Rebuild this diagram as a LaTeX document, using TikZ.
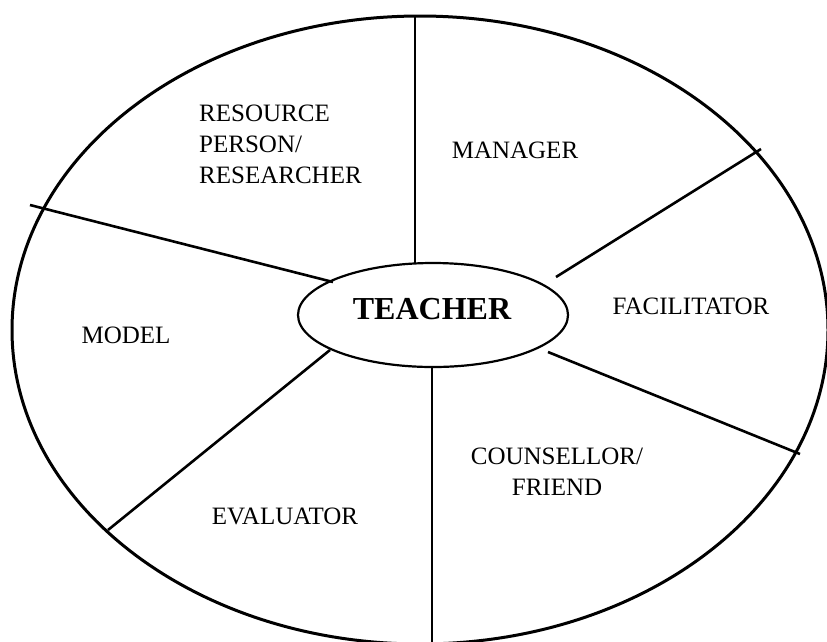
\documentclass[tikz,border=0pt]{standalone}
\usepackage{fontspec}
\setmainfont{Liberation Serif}
\usetikzlibrary{shapes.geometric, positioning}

\begin{document}
\begin{tikzpicture}[x=1pt, y=-1pt,
    role/.style={font=\fontsize{25}{31}\selectfont, inner sep=0pt},
    spoke/.style={line width=2.6pt}]

\useasboundingbox (0,0) rectangle (827,641);

% Outer ring
\draw[line width=3pt] (420,330) ellipse [x radius=408pt, y radius=314pt];

% Centre ellipse with the teacher
\node[draw, ellipse, line width=2.2pt, minimum width=270pt, minimum height=104pt, inner sep=0pt] (teacher) at (433,315) {};
\node[font=\fontsize{32}{38}\selectfont\bfseries, inner sep=0pt] (teachertext) at (432,309) {TEACHER};

% End points of the dividing lines
\coordinate (topout) at (415,15);
\coordinate (topin) at (415,263);
\coordinate (ulout) at (30,205);
\coordinate (ulin) at (333,282);
\coordinate (urout) at (761,149);
\coordinate (urin) at (556,277);
\coordinate (lrout) at (800,454);
\coordinate (lrin) at (548,352);
\coordinate (botout) at (432,648);
\coordinate (botin) at (432,367);
\coordinate (llout) at (108,530);
\coordinate (llin) at (330,350);

% Dividing lines
\foreach \a/\b in {topout/topin, ulout/ulin, urout/urin, lrout/lrin, botout/botin, llout/llin}
{
    \draw[spoke] (\a) -- (\b);
}

% Labels for the roles
\node[role, align=left, anchor=north west] (resource) at (199,105) {RESOURCE\\PERSON/\\RESEARCHER};
\node[role] (manager) at (515,150) {MANAGER};
\node[role] (facilitator) at (691,306) {FACILITATOR};
\node[role] (model) at (126,335) {MODEL};
\node[role] (evaluator) at (285,516) {EVALUATOR};
\node[role, align=center, anchor=north] (counsellor) at (557,448) {COUNSELLOR/\\FRIEND};

\end{tikzpicture}
\end{document}
